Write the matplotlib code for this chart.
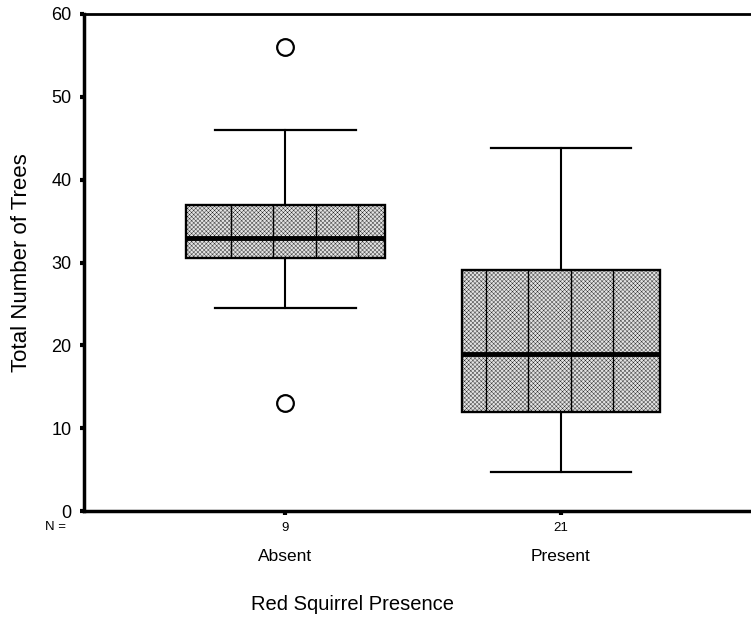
import numpy as np
import matplotlib
matplotlib.use("Agg")
import matplotlib.pyplot as plt
import matplotlib.transforms as mtransforms

# ---------------------------
# Data
# ---------------------------
groups = ["Absent", "Present"]
n_counts = [9, 21]
whisk_lo = [24.5, 4.7]
q1 = [30.5, 12.0]
medians = [33.0, 19.0]
q3 = [37.0, 29.1]
whisk_hi = [46.0, 43.8]
outliers = [[56.0, 13.0], []]

plt.rcParams["font.family"] = ["Liberation Sans", "DejaVu Sans"]
plt.rcParams["hatch.linewidth"] = 0.25

fig = plt.figure(figsize=(7.51, 6.28), dpi=100)
ax = fig.add_axes([84 / 751, 117 / 628, 1 - 84 / 751, (511 - 14) / 628])

stats = []
for i, g in enumerate(groups):
    stats.append({
        "label": g,
        "whislo": whisk_lo[i],
        "q1": q1[i],
        "med": medians[i],
        "q3": q3[i],
        "whishi": whisk_hi[i],
        "fliers": outliers[i],
    })

positions = [1, 2]
box_w = 0.72
ax.bxp(stats, positions=positions, widths=box_w, capwidths=0.51,
       patch_artist=True, showfliers=True,
       boxprops=dict(facecolor="#e2e2e2", edgecolor="black", linewidth=1.7, hatch="xxxxxxxx"),
       medianprops=dict(color="black", linewidth=3.5, solid_capstyle="butt"),
       whiskerprops=dict(color="black", linewidth=1.5),
       capprops=dict(color="black", linewidth=1.6),
       flierprops=dict(marker="o", markersize=12, markerfacecolor="white",
                       markeredgecolor="black", markeredgewidth=1.6))

# vertical grid lines running through the boxes
period = 0.1543
origin = 0.802
for i, p in enumerate(positions):
    left, right = p - box_w / 2, p + box_w / 2
    k0 = int(np.ceil((left - origin) / period))
    k1 = int(np.floor((right - origin) / period))
    xs = [origin + k * period for k in range(k0, k1 + 1)]
    xs = [x for x in xs if left + 0.02 < x < right - 0.02]
    ax.vlines(xs, q1[i], q3[i], colors="black", linewidth=1.0, zorder=3)

ax.set_xlim(0.2686, 2.69)
ax.set_ylim(0, 60)
ax.set_yticks([0, 10, 20, 30, 40, 50, 60])
ax.tick_params(axis="y", direction="out", length=3, width=3, labelsize=13, pad=6)
ax.set_xticks(positions)
ax.set_xticklabels([str(n) for n in n_counts], fontsize=9.5)
ax.tick_params(axis="x", direction="out", length=3, width=3, pad=5)

for s in ["left", "bottom"]:
    ax.spines[s].set_linewidth(2.5)
ax.spines["top"].set_linewidth(2.0)
ax.spines["right"].set_visible(False)

trans = mtransforms.blended_transform_factory(ax.transData, ax.transAxes)
for p, g in zip(positions, groups):
    ax.text(p, -0.092, g, transform=trans, ha="center", va="center", fontsize=12.5)
fig.text(66 / 751, 1 - 527 / 628, "N =", ha="right", va="center", fontsize=9.5)

ax.set_ylabel("Total Number of Trees", fontsize=16, labelpad=14)
fig.text(0.469, 0.038, "Red Squirrel Presence", ha="center", va="center", fontsize=14.5)

fig.savefig("out.png", dpi=100)
plt.close(fig)
